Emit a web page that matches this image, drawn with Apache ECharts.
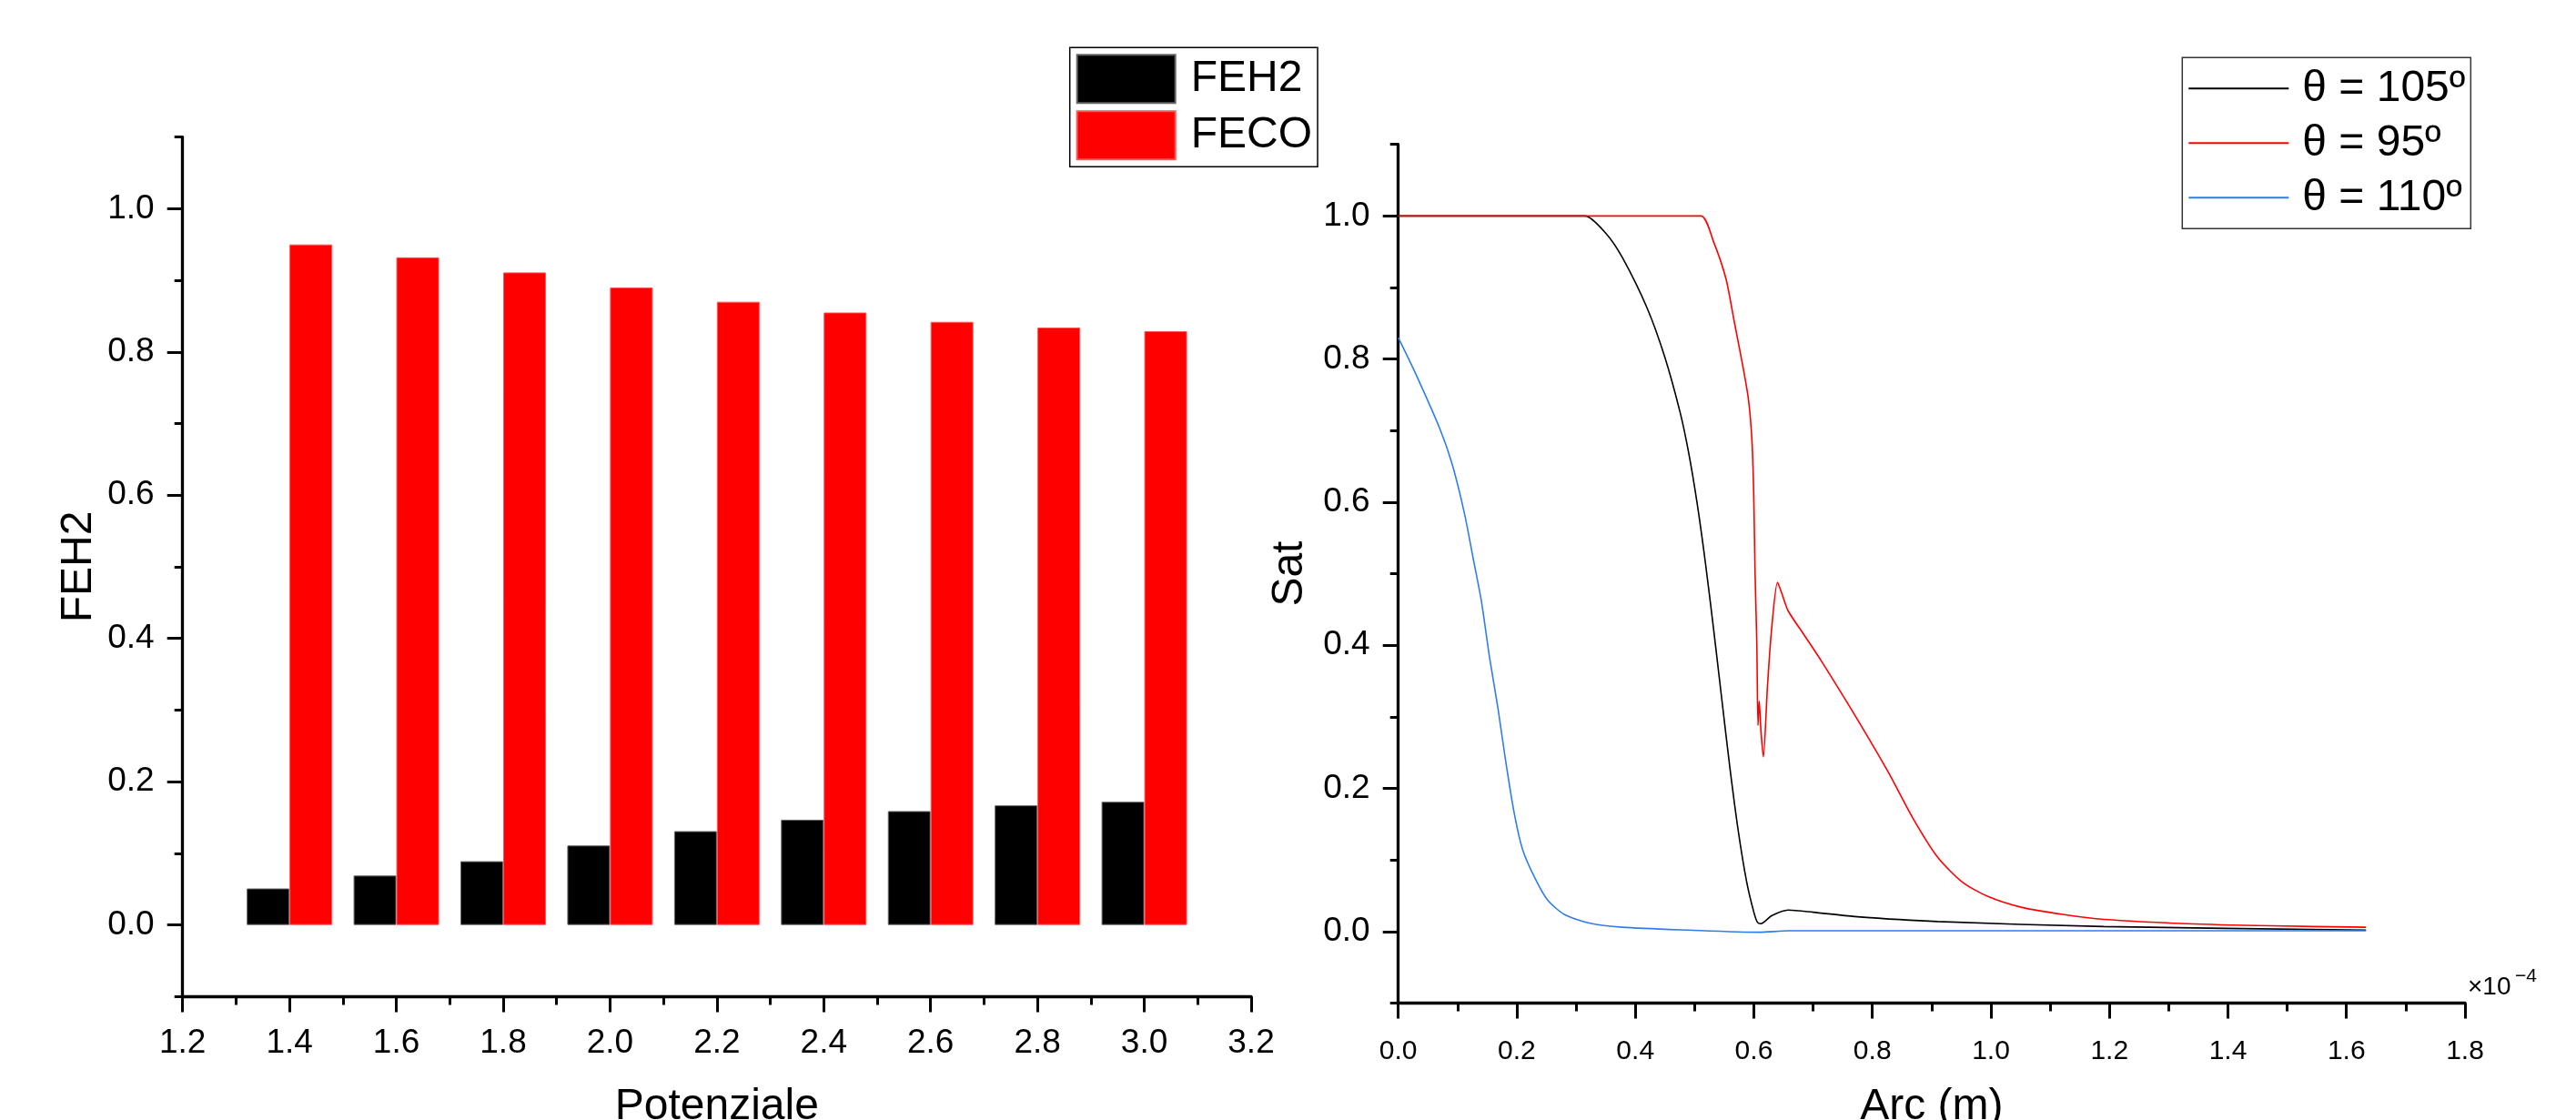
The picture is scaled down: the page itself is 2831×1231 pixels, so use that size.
<!DOCTYPE html>
<html>
<head>
<meta charset="utf-8">
<title>FEH2 / Sat</title>
<script src="https://cdn.jsdelivr.net/npm/echarts@6/dist/echarts.min.js"></script>
<style>
    html, body { margin: 0; padding: 0; background: #fff; }
    #chart { width: 2831px; height: 1231px; }
</style>
</head>
<body>
<div id="chart"></div>
<script>
    // ---- left chart: faradaic efficiency vs potential ----
    var potenziale = [1.4, 1.6, 1.8, 2.0, 2.2, 2.4, 2.6, 2.8, 3.0];
    var feh2 = [0.051, 0.069, 0.089, 0.111, 0.131, 0.147, 0.159, 0.167, 0.172];
    var feco = [0.950, 0.932, 0.911, 0.890, 0.870, 0.855, 0.842, 0.834, 0.829];

    // y tick labels (same on both charts)
    var yLabels = [0, 0.2, 0.4, 0.6, 0.8, 1.0];

    // ---- right chart: saturation along the arc (arc in 1e-4 m) ----
    var arc105 = [0, 0.25, 0.315, 0.350, 0.378, 0.420, 0.450, 0.476, 0.490, 0.504, 0.518, 0.532, 0.546, 0.560, 0.574, 0.588, 0.600, 0.606, 0.612, 0.630, 0.658, 0.700, 0.770, 0.910, 1.190, 1.633];
    var sat105 = [1, 1, 1, 0.976, 0.942, 0.871, 0.802, 0.724, 0.669, 0.600, 0.517, 0.423, 0.324, 0.226, 0.139, 0.069, 0.027, 0.013, 0.011, 0.022, 0.030, 0.027, 0.021, 0.014, 0.007, 0.002];

    var arc95 = [0, 0.45, 0.511, 0.532, 0.553, 0.567, 0.581, 0.591, 0.597, 0.600, 0.602, 0.605, 0.607, 0.609, 0.612, 0.616, 0.623, 0.630, 0.640, 0.647, 0.658, 0.686, 0.714, 0.770, 0.826, 0.868, 0.910, 0.952, 0.995, 1.051, 1.121, 1.191, 1.331, 1.471, 1.633];
    var sat95 = [1, 1, 1, 0.964, 0.912, 0.852, 0.792, 0.743, 0.683, 0.603, 0.503, 0.403, 0.288, 0.322, 0.280, 0.244, 0.343, 0.423, 0.488, 0.473, 0.448, 0.413, 0.378, 0.303, 0.224, 0.159, 0.104, 0.069, 0.049, 0.034, 0.024, 0.017, 0.011, 0.008, 0.006];

    var arc110 = [0, 0.028, 0.070, 0.091, 0.112, 0.126, 0.140, 0.154, 0.168, 0.182, 0.196, 0.210, 0.231, 0.252, 0.280, 0.322, 0.378, 0.490, 0.609, 0.658, 1.633];
    var sat110 = [0.830, 0.782, 0.703, 0.653, 0.583, 0.523, 0.463, 0.383, 0.313, 0.234, 0.164, 0.114, 0.074, 0.044, 0.024, 0.012, 0.006, 0.002, -0.001, 0.001, 0.001];

    function pairs(xs, ys) {
        return xs.map(function (x, i) { return [x, ys[i]]; });
    }

    var font = 'Liberation Sans, Arial, sans-serif';
    var fmt = function (v) { return (+v).toFixed(1); };

    function xAxisOf(grid, min, max, name, nameGap, labelSize, labelMargin) {
        return {
            gridIndex: grid,
            type: 'value',
            min: min,
            max: max,
            interval: 0.2,
            name: name,
            nameLocation: 'middle',
            nameGap: nameGap,
            nameTextStyle: { fontSize: 48, color: '#000', fontFamily: font },
            axisLine: { onZero: false, lineStyle: { color: '#000', width: 3.3 } },
            axisTick: { length: 17, lineStyle: { color: '#000', width: 3 } },
            minorTick: { show: true, splitNumber: 2, length: 9, lineStyle: { color: '#000', width: 3 } },
            axisLabel: { fontSize: labelSize, margin: labelMargin, color: '#000', fontFamily: font, formatter: fmt },
            splitLine: { show: false }
        };
    }

    // y range -0.1..1.1: scale ticks fall on the odd tenths (short ticks),
    // the minor ticks in between are the long ones at 0.0, 0.2, ...
    function yAxisOf(grid, name, nameGap) {
        return {
            gridIndex: grid,
            type: 'value',
            min: -0.1,
            max: 1.1,
            interval: 0.2,
            name: name,
            nameLocation: 'middle',
            nameGap: nameGap,
            nameTextStyle: { fontSize: 48, color: '#000', fontFamily: font },
            axisLine: { onZero: false, lineStyle: { color: '#000', width: 3.3 } },
            axisTick: { length: 9, lineStyle: { color: '#000', width: 3 } },
            minorTick: { show: true, splitNumber: 2, length: 17, lineStyle: { color: '#000', width: 3 } },
            axisLabel: { customValues: yLabels, fontSize: 37, margin: 31, color: '#000', fontFamily: font, formatter: fmt },
            splitLine: { show: false }
        };
    }

    var chart = echarts.init(document.getElementById('chart'));

    var options = {
        animation: false,
        backgroundColor: '#fff',
        grid: [
            { left: 200.7, top: 150.6, width: 1174.3, height: 944.8, outerBoundsMode: 'none', containLabel: false },
            { left: 1536.7, top: 158.7, width: 1172.3, height: 943.8, outerBoundsMode: 'none', containLabel: false }
        ],
        xAxis: [
            xAxisOf(0, 1.2, 3.2, 'Potenziale', 97, 37, 33),
            xAxisOf(1, 0, 1.8, 'Arc (m)', 90, 30, 38)
        ],
        yAxis: [
            yAxisOf(0, 'FEH2', 90),
            yAxisOf(1, 'Sat', 95)
        ],
        legend: [
            {
                data: ['FEH2', 'FECO'],
                orient: 'vertical',
                left: 1175.7,
                top: 52.3,
                icon: 'rect',
                itemWidth: 108,
                itemHeight: 53,
                itemGap: 7,
                padding: [7, 6, 7, 7],
                borderColor: '#000',
                borderWidth: 1.5,
                textStyle: { fontSize: 48, color: '#000', fontFamily: font, padding: [0, 0, 0, 12] }
            },
            {
                data: ['θ = 105º', 'θ = 95º', 'θ = 110º'],
                orient: 'vertical',
                left: 2398.3,
                top: 63.3,
                icon: 'rect',
                itemWidth: 110,
                itemHeight: 2,
                itemGap: 12,
                padding: [10, 6, 10, 7],
                borderColor: '#333',
                borderWidth: 1.5,
                textStyle: { fontSize: 48, color: '#000', fontFamily: font, padding: [0, 0, 0, 10] }
            }
        ],
        graphic: [
            { type: 'text', left: 2712, top: 1071, style: { text: '×10', fontSize: 28, fill: '#000', fontFamily: font } },
            { type: 'text', left: 2764, top: 1063, style: { text: '−4', fontSize: 21, fill: '#000', fontFamily: font } }
        ],
        series: [
            {
                name: 'FEH2', type: 'bar', xAxisIndex: 0, yAxisIndex: 0,
                barGap: '0%', barCategoryGap: '20%',
                itemStyle: { color: '#000', borderColor: '#666', borderWidth: 1 },
                data: pairs(potenziale, feh2)
            },
            {
                name: 'FECO', type: 'bar', xAxisIndex: 0, yAxisIndex: 0,
                barGap: '0%', barCategoryGap: '20%',
                itemStyle: { color: '#ff0000', borderColor: '#ff5555', borderWidth: 1 },
                data: pairs(potenziale, feco)
            },
            {
                name: 'θ = 105º', type: 'line', xAxisIndex: 1, yAxisIndex: 1,
                symbol: 'none', smooth: 0.25, color: '#000',
                lineStyle: { color: '#000', width: 1.6 },
                data: pairs(arc105, sat105)
            },
            {
                name: 'θ = 95º', type: 'line', xAxisIndex: 1, yAxisIndex: 1,
                symbol: 'none', smooth: 0.25, color: '#ff0000',
                lineStyle: { color: '#ff0000', width: 1.6 },
                data: pairs(arc95, sat95)
            },
            {
                name: 'θ = 110º', type: 'line', xAxisIndex: 1, yAxisIndex: 1,
                symbol: 'none', smooth: 0.25, color: '#2f7de8',
                lineStyle: { color: '#2f7de8', width: 1.6 },
                data: pairs(arc110, sat110)
            }
        ]
    };

    chart.setOption(options);

    window.addEventListener('resize', function () {
        chart.resize();
    });
</script>
</body>
</html>
